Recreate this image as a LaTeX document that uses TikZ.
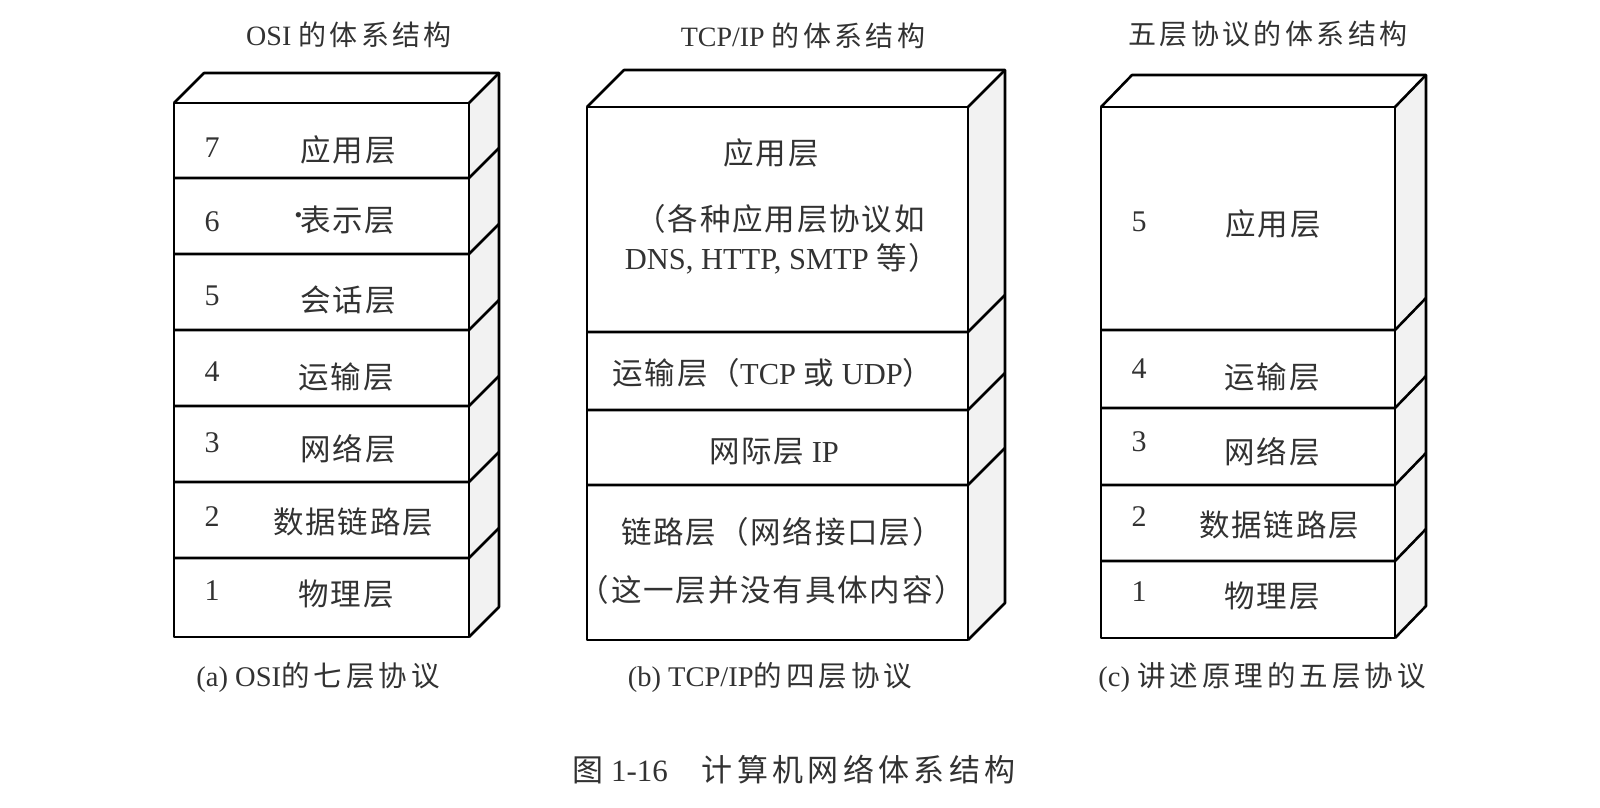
\documentclass[tikz,border=0pt]{standalone}
\usepackage{fontspec}
\usepackage{graphicx}
\setmainfont{Liberation Serif}
\newfontfamily\cjk[LetterSpace=6]{Noto Sans CJK SC}
\newfontfamily\cjks[LetterSpace=14]{Noto Sans CJK SC}
\newfontfamily\cjkt[LetterSpace=12]{Noto Sans CJK SC}
\newfontfamily\cjkf[LetterSpace=14]{Noto Sans CJK SC}
\definecolor{sideface}{RGB}{242,242,242}
\definecolor{txt}{RGB}{50,50,50}
\newcommand\drawstack[7]{%
  \fill[sideface] (#2,#3) -- ++(#5,#6) -- (#2+#5,#4+#6) -- (#2,#4) -- cycle;
  \draw[edge] (#1,#3) -- ++(#5,#6) -- (#2+#5,#3+#6) -- (#2+#5,#4+#6) -- (#2,#4);
  \draw[edge] (#1,#3) rectangle (#2,#4);
  \draw[edge] (#2,#3) -- ++(#5,#6);
  \foreach \yy in {#7} { \draw[edge] (#1,\yy) -- (#2,\yy) -- ++(#5,#6); }
}
\begin{document}
\begin{tikzpicture}[x=1pt,y=-1pt,
  edge/.style={line width=2.6pt, line join=round, black},
  lab/.style={text=txt, inner sep=0pt, font=\fontsize{30.5}{36}\selectfont},
  num/.style={text=txt, inner sep=0pt, font=\fontsize{30}{35}\selectfont},
  ttl/.style={text=txt, inner sep=0pt, font=\fontsize{28}{34}\selectfont},
  capt/.style={text=txt, inner sep=0pt, font=\fontsize{28.5}{34}\selectfont},
]
\fill[white] (0,0) rectangle (1600,808);
\useasboundingbox (0,0) rectangle (1600,808);

% stacks
\drawstack{174}{469}{103}{637}{30}{-30}{178,254,330,406,482,558}
\drawstack{587}{968}{107}{640}{37}{-37}{332,410,485}
\drawstack{1101}{1395}{107}{638}{31}{-32}{330,408,485,561}

% titles
\node[ttl] (ta) at (349,35) {OSI {\cjkt 的体系结构}};
\node[ttl] (tb) at (803,36) {TCP/IP {\cjkt 的体系结构}};
\node[ttl] (tc) at (1268,34) {\cjkt 五层协议的体系结构};

% (a) OSI
\node[num] (a7n) at (212,148) {7};
\node[lab] (a7) at (348,150) {\cjk 应用层};
\node[num] (a6n) at (212,222) {6};
\node[lab] (a6) at (345,220) {\raisebox{0.3em}{\fontsize{22}{22}\selectfont •}\hspace{-2pt}\cjk 表示层};
\node[num] (a5n) at (212,296) {5};
\node[lab] (a5) at (348,300) {\cjk 会话层};
\node[num] (a4n) at (212,372) {4};
\node[lab] (a4) at (346,377) {\cjk 运输层};
\node[num] (a3n) at (212,443) {3};
\node[lab] (a3) at (348,449) {\cjk 网络层};
\node[num] (a2n) at (212,517) {2};
\node[lab] (a2) at (353,522) {\cjk 数据链路层};
\node[num] (a1n) at (212,591) {1};
\node[lab] (a1) at (346,594) {\cjk 物理层};

% (b) TCP/IP
\node[lab] (b4) at (771,153) {\cjk 应用层};
\node[lab] (b4a) at (780,219) {\cjk （各种应用层协议如};
\node[lab] (b4b) at (782,259) {DNS, HTTP, SMTP {\cjk 等）}};
\node[lab] (b3) at (773,373) {{\cjk 运输层（}TCP {\cjk 或} UDP{\cjk ）}};
\node[lab] (b2) at (774,452) {{\cjk 网际层} IP};
\node[lab] (b1a) at (782,532) {\cjk 链路层（网络接口层）};
\node[lab] (b1b) at (772,590) {\cjk （这一层并没有具体内容）};

% (c) five layers
\node[num] (c5n) at (1139,222) {5};
\node[lab] (c5) at (1273,224) {\cjk 应用层};
\node[num] (c4n) at (1139,369) {4};
\node[lab] (c4) at (1272,377) {\cjk 运输层};
\node[num] (c3n) at (1139,442) {3};
\node[lab] (c3) at (1272,452) {\cjk 网络层};
\node[num] (c2n) at (1139,517) {2};
\node[lab] (c2) at (1279,525) {\cjk 数据链路层};
\node[num] (c1n) at (1139,592) {1};
\node[lab] (c1) at (1272,596) {\cjk 物理层};

% captions
\node[capt] (ca) at (318,677) {(a) OSI{\cjks 的七层协议}};
\node[capt] (cb) at (770,677) {(b) TCP/IP{\cjks 的四层协议}};
\node[capt] (cc) at (1262,677) {(c) {\cjks 讲述原理的五层协议}};
\node[capt, font=\fontsize{31}{36}\selectfont] (fig) at (794,770) {{\cjkf 图} 1-16\hspace{1.1em}{\cjkf 计算机网络体系结构}};
\end{tikzpicture}
\end{document}
